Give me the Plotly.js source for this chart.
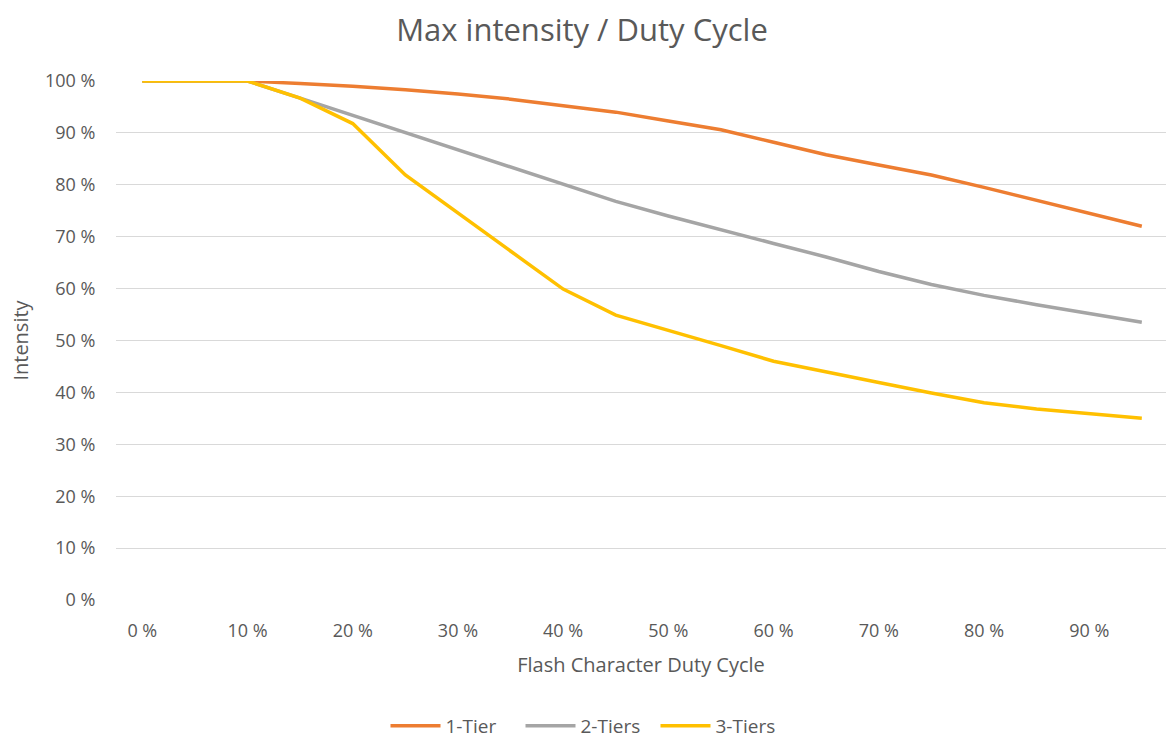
<!DOCTYPE html>
<html>
<head>
<meta charset="utf-8">
<script src="https://cdn.plot.ly/plotly-3.0.1.min.js"></script>
<style>html,body{margin:0;padding:0;background:#fff;}#chart{width:1166px;height:740px;}</style>
</head>
<body>
<div id="chart"></div>
<script>
const dutyCycle = [0, 5, 10, 15, 20, 25, 30, 35, 40, 45, 50, 55, 60, 65, 70, 75, 80, 85, 90, 95];
const tier1 = [100, 100, 100, 99.5, 99, 98.3, 97.5, 96.5, 95.3, 94, 92.3, 90.6, 88.2, 85.8, 83.8, 81.9, 79.5, 77, 74.5, 72];
const tier2 = [100, 100, 100, 96.7, 93.4, 90.1, 86.8, 83.5, 80.2, 76.8, 74, 71.3, 68.7, 66.1, 63.3, 60.8, 58.7, 56.9, 55.2, 53.5];
const tier3 = [100, 100, 100, 96.7, 91.8, 81.9, 74.6, 67.3, 59.9, 54.9, 52, 49, 46, 43.9, 41.9, 39.9, 38, 36.8, 35.9, 35];
const seriesNames = ['1-Tier', '2-Tiers', '3-Tiers'];
const xTickVals = [0, 10, 20, 30, 40, 50, 60, 70, 80, 90];
const xTickText = ['0 %', '10 %', '20 %', '30 %', '40 %', '50 %', '60 %', '70 %', '80 %', '90 %'];
const yTickVals = [0, 10, 20, 30, 40, 50, 60, 70, 80, 90, 100];
const yTickText = ['0 %', '10 %', '20 %', '30 %', '40 %', '50 %', '60 %', '70 %', '80 %', '90 %', '100 %'];

const FONT = '"Open Sans", sans-serif';
const colors = ['#ED7D31', '#A5A5A5', '#FFC000'];
const traces = [tier1, tier2, tier3].map((ys, i) => ({
  x: dutyCycle, y: ys, name: seriesNames[i], type: 'scatter', mode: 'lines',
  line: {color: colors[i], width: 3.5}
}));

const layout = {
  width: 1166, height: 740,
  margin: {l: 116, r: 0, t: 81, b: 140},
  paper_bgcolor: '#fff', plot_bgcolor: '#fff',
  font: {family: FONT, color: '#595959', size: 19},
  title: {text: 'Max intensity / Duty Cycle', font: {family: FONT, size: 31, color: '#595959'},
          x: 582/1166, xanchor: 'center', xref: 'container', y: 1 - 30/740, yref: 'container', yanchor: 'middle'},
  xaxis: {range: [-2.5, 97.3], tickvals: xTickVals, ticktext: xTickText, showgrid: false, zeroline: false,
          showline: false, ticks: 'outside', ticklen: 14, tickcolor: 'rgba(0,0,0,0)',
          tickfont: {size: 18, color: '#595959'},
          title: {text: 'Flash Character Duty Cycle', font: {size: 20, color: '#595959'}, standoff: 17}},
  yaxis: {range: [0, 100], tickvals: yTickVals, ticktext: yTickText, showgrid: true, gridcolor: '#D9D9D9', gridwidth: 1,
          zeroline: false, showline: false, ticks: 'outside', ticklen: 16, tickcolor: 'rgba(0,0,0,0)',
          tickfont: {size: 18, color: '#595959'},
          title: {text: 'Intensity', font: {size: 20, color: '#595959'}, standoff: 10}},
  showlegend: true,
  legend: {orientation: 'h', xref: 'container', x: 588/1166, xanchor: 'center', yref: 'container', y: 1 - 726/740, yanchor: 'middle',
           font: {size: 19, color: '#595959'}, itemwidth: 50, entrywidth: 70}
};
Plotly.newPlot('chart', traces, layout, {displayModeBar: false, staticPlot: true});
</script>
</body>
</html>
